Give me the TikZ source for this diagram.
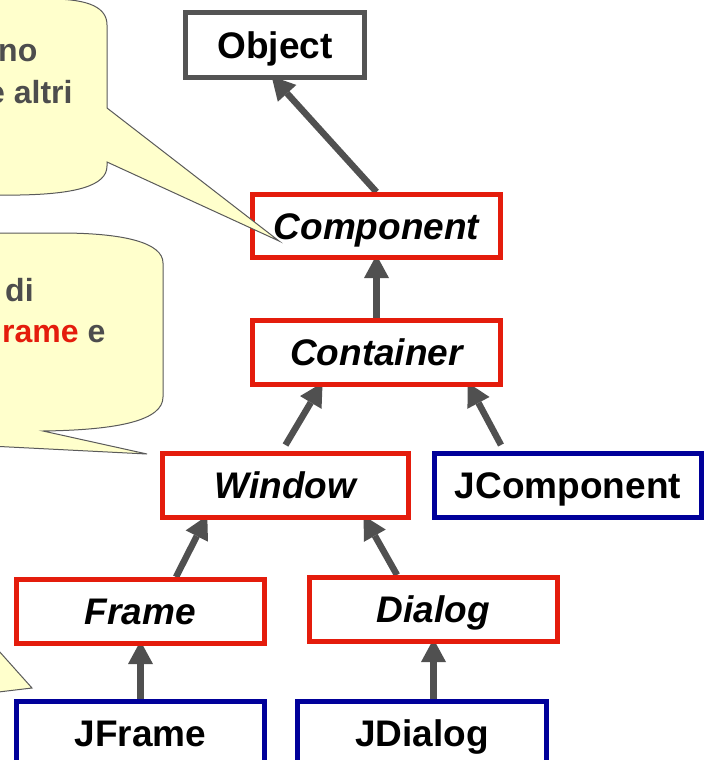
\documentclass[tikz,border=0pt]{standalone}
\usepackage{fontspec}
\setmainfont{Liberation Sans}
\usetikzlibrary{arrows.meta,calc}
\pgfdeclarelayer{background}
\pgfsetlayers{background,main}
\definecolor{jred}{RGB}{228,28,12}
\definecolor{jblue}{RGB}{0,0,154}
\definecolor{objgray}{RGB}{84,84,84}
\definecolor{arrgray}{RGB}{80,80,80}
\definecolor{textgray}{RGB}{77,77,77}
\definecolor{cfill}{RGB}{255,255,204}
\definecolor{cline}{RGB}{90,90,90}
\tikzset{
  cls/.style={draw, line width=5pt, fill=white, inner sep=0pt,
    text height=26.5pt, text depth=0pt, text=black,
    font=\fontsize{37}{40}\selectfont\bfseries},
  abscls/.style={cls, draw=jred, font=\fontsize{37}{40}\selectfont\bfseries\itshape},
  swingcls/.style={cls, draw=jblue},
  objcls/.style={cls, draw=objgray},
  inh/.style={draw=arrgray, line width=6.5pt, shorten >=-5pt,
    -{Triangle[length=23pt,width=25pt,line width=0pt]}},
  callout/.style={fill=cfill, draw=cline, line width=1pt, line join=miter},
  ctext/.style={inner sep=0pt, anchor=base west, text=textgray,
    font=\fontsize{32}{38}\selectfont\bfseries}
}
\begin{document}
\begin{tikzpicture}[x=1pt,y=-1pt]
\useasboundingbox (0,0) rectangle (704,760);
% class boxes
\node[objcls, minimum width=179pt, minimum height=65pt] (obj) at (275,45) {Object};
\node[abscls, minimum width=248pt, minimum height=63pt] (comp) at (376.5,226) {Component};
\node[abscls, minimum width=248pt, minimum height=64pt] (cont) at (376.5,352.5) {Container};
\node[abscls, minimum width=246pt, minimum height=64pt] (win) at (285.5,485.5) {Window};
\node[swingcls, minimum width=267pt, minimum height=64pt] (jcomp) at (568,485.5) {JComponent};
\node[abscls, minimum width=248pt, minimum height=64pt] (frame) at (140.5,611.5) {Frame};
\node[abscls, minimum width=248pt, minimum height=64pt] (dialog) at (433.5,609.5) {Dialog};
\node[swingcls, minimum width=248pt, minimum height=64pt] (jframe) at (140.5,733.5) {JFrame};
\node[swingcls, minimum width=249pt, minimum height=64pt] (jdialog) at (422,733.5) {JDialog};
% inheritance arrows (behind the boxes)
\begin{pgfonlayer}{background}
\draw[inh] (comp.north) -- (obj.south);
\draw[inh] (cont.north) -- (comp.south);
\draw[inh] ($(win.north)+(0,-6)$) -- ($(cont.south)+(-56.5,0)$);
\draw[inh] ($(jcomp.north)+(-67,-6)$) -- ($(cont.south)+(93.5,0)$);
\draw[inh] ($(frame.north)+(35.5,0)$) -- ($(win.south)+(-80.5,0)$);
\draw[inh] ($(dialog.north)+(-36.5,0)$) -- ($(win.south)+(80.5,0)$);
\draw[inh] (jframe.north) -- (frame.south);
\draw[inh] (jdialog.north -| dialog.south) -- (dialog.south);
\end{pgfonlayer}
% callouts
\coordinate (tipA) at (279,241);
\coordinate (tipB) at (147,454);
\coordinate (tipC) at (32,688);
\path[callout] (-30,-1) -- (50,-1) .. controls (90,-1) and (107,8) .. (107,25)
  -- (107,108) -- (tipA) -- (107,162) -- (107,166)
  .. controls (107,186) and (75,194) .. (20,195) -- (-30,195);
\path[callout] (-30,233) -- (60,233) .. controls (125,233) and (163,243) .. (163,263)
  -- (163,397) .. controls (163,420) and (120,430) .. (43,431)
  -- (tipB) -- (-30,445);
\path[callout] (-10,641) -- (tipC) -- (-10,693);
\node[ctext] (t1) at (-2,62) {no};
\node[ctext] (t2) at (-13,103) {e altri};
\node[ctext] (t3) at (5,301) {di};
\node[ctext] (t4) at (2,342) {\textcolor{jred}{rame} e};
\end{tikzpicture}
\end{document}
